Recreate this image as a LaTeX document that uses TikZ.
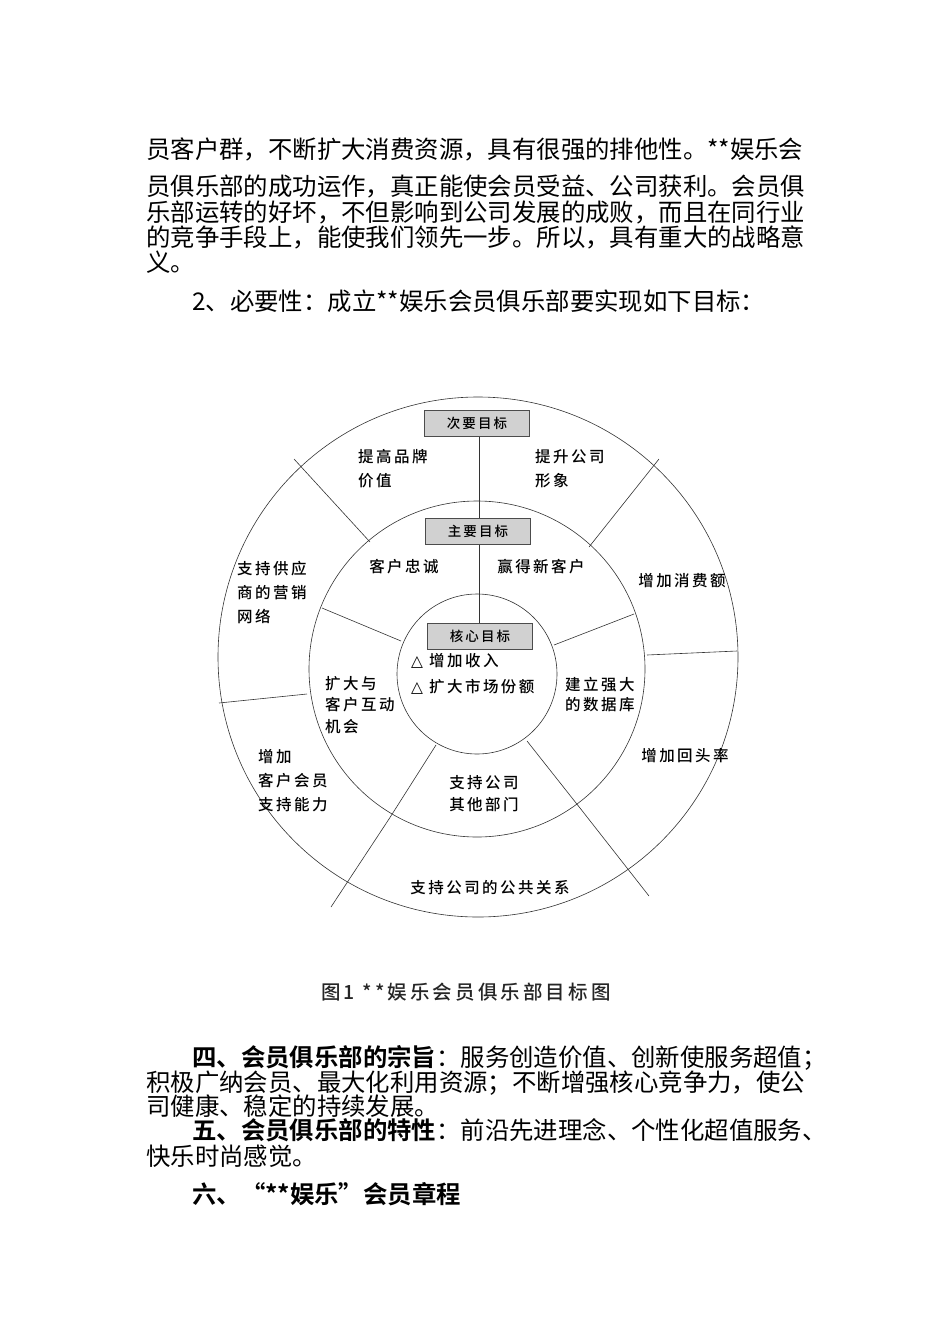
\documentclass[tikz,border=0pt]{standalone}
\usepackage{fontspec}
\setmainfont{Noto Sans CJK SC}[BoldFont={Noto Sans CJK SC Bold}]
\newfontfamily\dg{Noto Sans CJK SC Medium}[LetterSpace=16]
\begin{document}
\begin{tikzpicture}[x=1pt,y=-1pt,
  body/.style={anchor=base west,inner sep=0,font=\fontsize{24.4}{24}\selectfont},
  lbl/.style={font=\dg\fontsize{15.5}{24}\selectfont,inner sep=0,align=left},
  clbl/.style={font=\dg\fontsize{15.5}{24}\selectfont,inner sep=0,align=center},
  goal/.style={draw=black!70,fill=black!18,line width=1pt,minimum width=105pt,minimum height=26pt,inner sep=0,font=\dg\fontsize{13.5}{13}\selectfont},
  ln/.style={draw=black!80,line width=0.6pt}]
\useasboundingbox (0,0) rectangle (950,1344);
% body text
\node[body] (t1) at (146,158) {员客户群，不断扩大消费资源，具有很强的排他性。**娱乐会};
\node[body] (t2) at (146,195) {员俱乐部的成功运作，真正能使会员受益、公司获利。会员俱};
\node[body] (t3) at (146,221) {乐部运转的好坏，不但影响到公司发展的成败，而且在同行业};
\node[body] (t4) at (146,246) {的竞争手段上，能使我们领先一步。所以，具有重大的战略意};
\node[body] (t5) at (146,271) {义。};
\node[body] (t6) at (192,310) {2、必要性：成立**娱乐会员俱乐部要实现如下目标：};
% circles
\coordinate (c) at (478,657);
\draw[ln] (c) circle[radius=260];
\draw[ln] (477,669) circle[radius=168];
\draw[ln] (477,674) circle[radius=80];
% boxes
\node[goal] (b1) at (477,423) {次要目标};
\node[goal] (b2) at (478,531) {主要目标};
\node[goal] (b3) at (480,636) {核心目标};
\draw[ln] (b1.south -| 479,0) -- (b2.north -| 479,0);
\draw[ln] (b2.south -| 479,0) -- (b3.north -| 479,0);
% outer dividers
\draw[ln] (294,459) -- (370,542);
\draw[ln] (659,459) -- (589,547);
\draw[ln] (737,651) -- (647,655);
\draw[ln] (219,703) -- (307,694);
\draw[ln] (331,907) -- (389,819);
\draw[ln] (649,896) -- (580,808);
% middle dividers
\draw[ln] (322,608) -- (401,641);
\draw[ln] (634,614) -- (554,645);
\draw[ln] (389,819) -- (436,745);
\draw[ln] (580,808) -- (527,741);
% labels
\node[lbl,anchor=north west] (l1) at (358,449) {提高品牌\\价值};
\node[lbl,anchor=north west] (l2) at (535,449) {提升公司\\形象};
\node[clbl] (l3) at (404,567) {客户忠诚};
\node[clbl] (l4) at (541,567) {赢得新客户};
\node[lbl,anchor=north west] (l5) at (237,561) {支持供应\\商的营销\\网络};
\node[clbl] (l6) at (682,581) {增加消费额};
\node[clbl] (l7) at (685,756) {增加回头率};
\node[lbl,anchor=north west,font=\dg\fontsize{15.5}{20}\selectfont] (l8) at (565,677) {建立强大\\的数据库};
\node[lbl,anchor=north west,font=\dg\fontsize{15.5}{21.5}\selectfont] (l9) at (325,676) {扩大与\\客户互动\\机会};
\node[lbl,anchor=north west,font=\dg\fontsize{15.5}{26}\selectfont] (l10) at (411,653) {{\fontspec{DejaVu Sans}△} 增加收入\\{\fontspec{DejaVu Sans}△} 扩大市场份额};
\node[clbl,font=\dg\fontsize{15.5}{22}\selectfont] (l11) at (484,794) {支持公司\\其他部门};
\node[lbl,anchor=north west] (l12) at (258,749) {增加\\客户会员\\支持能力};
\node[clbl] (l13) at (490,888) {支持公司的公共关系};
\node[font=\dg\fontsize{19.5}{19}\selectfont,text=black!85,inner sep=0] (cap) at (466,992) {图1 **娱乐会员俱乐部目标图};
% lower text
\node[body] (u1) at (192,1066) {\textbf{四、会员俱乐部的宗旨}：服务创造价值、创新使服务超值；};
\node[body] (u2) at (146,1091) {积极广纳会员、最大化利用资源；不断增强核心竞争力，使公};
\node[body] (u3) at (146,1115) {司健康、稳定的持续发展。};
\node[body] (u4) at (192,1139) {\textbf{五、会员俱乐部的特性}：前沿先进理念、个性化超值服务、};
\node[body] (u5) at (146,1165) {快乐时尚感觉。};
\node[body] (u6) at (192,1203) {\textbf{六、“**娱乐”会员章程}};
\end{tikzpicture}
\end{document}
